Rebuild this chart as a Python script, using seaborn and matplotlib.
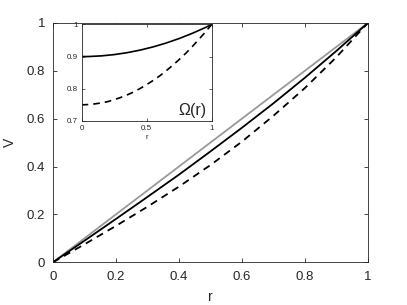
import numpy as np
import matplotlib
matplotlib.use("Agg")
import matplotlib.pyplot as plt
import seaborn as sns

# main panel values
r_main = [0.0, 0.1, 0.2, 0.3, 0.4, 0.5, 0.6, 0.7, 0.8, 0.9, 1.0]
v_linear = [0.0, 0.1, 0.2, 0.3, 0.4, 0.5, 0.6, 0.7, 0.8, 0.9, 1.0]
v_solid = [0.0, 0.090, 0.181, 0.273, 0.366, 0.463, 0.562, 0.664, 0.771, 0.883, 1.0]
v_dashed = [0.0, 0.075, 0.152, 0.232, 0.316, 0.406, 0.504, 0.612, 0.728, 0.857, 1.0]

# inset values Omega(r)
r_inset = [0.0, 0.05, 0.1, 0.15, 0.2, 0.25, 0.3, 0.35, 0.4, 0.45, 0.5,
           0.55, 0.6, 0.65, 0.7, 0.75, 0.8, 0.85, 0.9, 0.95, 1.0]
om_solid = [0.900, 0.900, 0.901, 0.902, 0.904, 0.906, 0.909, 0.912, 0.916, 0.920, 0.925,
            0.930, 0.936, 0.942, 0.949, 0.956, 0.964, 0.972, 0.981, 0.990, 1.000]
om_dashed = [0.750, 0.751, 0.753, 0.756, 0.760, 0.766, 0.773, 0.781, 0.790, 0.801, 0.813,
             0.826, 0.840, 0.856, 0.873, 0.891, 0.910, 0.931, 0.953, 0.976, 1.000]

main_ticks = [0, 0.2, 0.4, 0.6, 0.8, 1]
main_ticklabels = ["0", "0.2", "0.4", "0.6", "0.8", "1"]
inset_xticks = [0, 0.5, 1]
inset_xticklabels = ["0", "0.5", "1"]
inset_yticks = [0.7, 0.8, 0.9, 1]
inset_yticklabels = ["0.7", "0.8", "0.9", "1"]

sns.set_style("ticks")
plt.rcParams["font.family"] = ["Liberation Sans", "DejaVu Sans"]

axis_col = "#262626"
fig = plt.figure(figsize=(4.07, 3.05), dpi=100)
ax = fig.add_axes([0.130, 0.140, 0.774, 0.785])

sns.lineplot(x=r_main, y=v_linear, ax=ax, color="#999999", linewidth=1.3)
sns.lineplot(x=r_main, y=v_solid, ax=ax, color="black", linewidth=1.3)
sns.lineplot(x=r_main, y=v_dashed, ax=ax, color="black", linewidth=1.3, linestyle=(0, (4, 3)))

ax.set_xlim(0, 1)
ax.set_ylim(0, 1)
ax.set_xticks(main_ticks)
ax.set_xticklabels(main_ticklabels)
ax.set_yticks(main_ticks)
ax.set_yticklabels(main_ticklabels)
ax.tick_params(direction="in", top=True, right=True, length=3, width=0.6,
               labelsize=9.5, colors=axis_col)
ax.tick_params(axis="x", pad=6)
ax.tick_params(axis="y", pad=5.5)
for s in ax.spines.values():
    s.set_color(axis_col)
    s.set_linewidth(0.6)
ax.set_xlabel("r", fontsize=10, color=axis_col, labelpad=5)
ax.set_ylabel("V", fontsize=10, color=axis_col, labelpad=7)

# inset
axi = fig.add_axes([0.2005, 0.6033, 0.3200, 0.3170])
sns.lineplot(x=r_inset, y=om_solid, ax=axi, color="black", linewidth=1.2)
sns.lineplot(x=r_inset, y=om_dashed, ax=axi, color="black", linewidth=1.2, linestyle=(0, (4, 3)))
axi.set_xlim(0, 1)
axi.set_ylim(0.7, 1)
axi.set_xticks(inset_xticks)
axi.set_xticklabels(inset_xticklabels)
axi.set_yticks(inset_yticks)
axi.set_yticklabels(inset_yticklabels)
axi.tick_params(direction="in", top=True, right=True, length=2, width=0.5,
                labelsize=5.8, colors=axis_col, pad=3)
for s in axi.spines.values():
    s.set_color(axis_col)
    s.set_linewidth(0.6)
axi.set_xlabel("r", fontsize=5.8, color=axis_col, labelpad=1)
axi.set_ylabel("")
axi.text(0.96, 0.03, "Ω(r)", transform=axi.transAxes, ha="right", va="bottom",
         fontsize=11.5, color=axis_col)

fig.savefig("out.png", dpi=100)
